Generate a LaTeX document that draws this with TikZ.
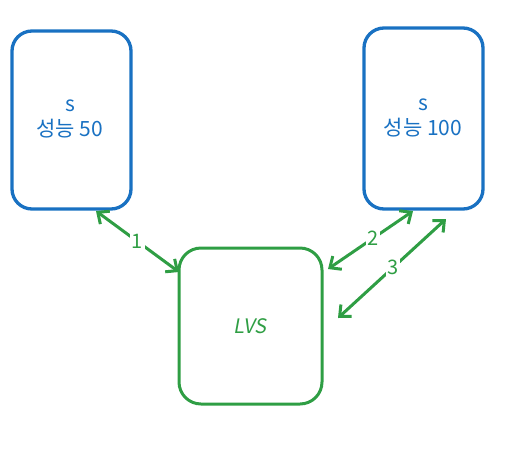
\documentclass[tikz,border=0pt]{standalone}
\usepackage{fontspec}
\setmainfont{Noto Sans CJK KR}
\newfontfamily\slantfont[FakeSlant=0.18]{Noto Sans CJK KR}
\usetikzlibrary{arrows.meta}
\definecolor{exblue}{HTML}{1971C2}
\definecolor{exgreen}{HTML}{2F9E44}
\begin{document}
\begin{tikzpicture}[x=1pt,y=-1pt,
  bluebox/.style={draw=exblue,line width=3.3pt,rounded corners=20pt},
  greenbox/.style={draw=exgreen,line width=3pt,rounded corners=22pt},
  boxtext/.style={text=exblue,font=\fontsize{21}{25}\selectfont,align=center},
  link/.style={draw=exgreen,line width=3pt,line cap=round,{Straight Barb[length=9pt,width=16pt,line width=3pt]}-{Straight Barb[length=9pt,width=16pt,line width=3pt]}},
  linklabel/.style={fill=white,text=exgreen,font=\fontsize{20}{22}\selectfont,inner sep=1.5pt}]
\useasboundingbox (0,0) rectangle (511,464);
\draw[bluebox] (12,31) rectangle (131,209);
\draw[bluebox] (364,28) rectangle (483,209);
\draw[greenbox] (179,248) rectangle (322,404);
\node[boxtext] (ltext) at (70,119) {s\\성능 50};
\node[boxtext] (rtext) at (423,118) {s\\성능 100};
\node[text=exgreen,font=\fontsize{20}{22}\slantfont] (lvs) at (250,326) {LVS};
\coordinate (a1) at (96,211);
\coordinate (b1) at (179,272);
\coordinate (a2) at (413,211);
\coordinate (b2) at (328,269);
\coordinate (a3) at (446,219);
\coordinate (b3) at (338,318);
\draw[link] (a1) -- (b1) node[linklabel,pos=0.5] (l1) {1};
\draw[link] (a2) -- (b2) node[linklabel,pos=0.47] (l2) {2};
\draw[link] (a3) -- (b3) node[linklabel,pos=0.49] (l3) {3};
\end{tikzpicture}
\end{document}
